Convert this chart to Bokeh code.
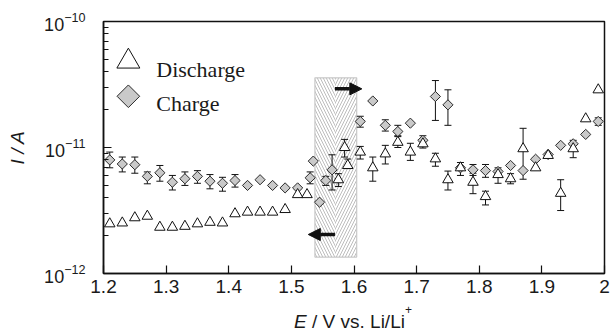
from bokeh.plotting import figure
from bokeh.layouts import column
from bokeh.models import (ColumnDataSource, Range1d, FixedTicker, CustomJSTickFormatter,
                          LogTickFormatter, Whisker, TeeHead, Arrow, NormalHead, Div)
from bokeh.core.properties import value
from bokeh.embed import file_html
from bokeh.resources import INLINE

# ---- Charge (diamonds) ----
charge_E = [1.21, 1.23, 1.25, 1.27, 1.29, 1.31, 1.33, 1.35, 1.37, 1.39, 1.41, 1.43, 1.45,
            1.47, 1.49, 1.51, 1.53, 1.535, 1.545, 1.555, 1.565, 1.61, 1.63, 1.65, 1.67,
            1.69, 1.71, 1.73, 1.75, 1.77, 1.79, 1.81, 1.83, 1.85, 1.87, 1.89, 1.91, 1.93,
            1.95, 1.97, 1.99]
charge_I = [7.97e-12, 7.4e-12, 7.3e-12, 5.9e-12, 6.3e-12, 5.3e-12, 5.65e-12, 5.9e-12,
            5.4e-12, 5.2e-12, 5.47e-12, 5.0e-12, 5.55e-12, 5.0e-12, 4.78e-12, 4.78e-12,
            5.75e-12, 7.8e-12, 3.68e-12, 5.47e-12, 6.65e-12, 1.61e-11, 2.34e-11, 1.5e-11,
            1.34e-11, 1.56e-11, 1.14e-11, 2.54e-11, 2.18e-11, 6.9e-12, 6.65e-12, 6.56e-12,
            6.45e-12, 7.2e-12, 6.56e-12, 8.07e-12, 8.8e-12, 1.04e-11, 1.07e-11, 1.27e-11,
            1.61e-11]
charge_err_E = [1.21, 1.23, 1.25, 1.27, 1.29, 1.31, 1.33, 1.35, 1.37, 1.39, 1.41, 1.53,
                1.555, 1.565, 1.61, 1.65, 1.67, 1.73, 1.75, 1.79, 1.81, 1.87, 1.99]
charge_err_lo = [6.9e-12, 6.4e-12, 6.25e-12, 5.15e-12, 5.4e-12, 4.6e-12, 5.0e-12, 5.2e-12,
                 4.7e-12, 4.5e-12, 4.85e-12, 5.15e-12, 5.0e-12, 4.6e-12, 1.45e-11, 1.35e-11,
                 1.22e-11, 1.64e-11, 1.5e-11, 6.0e-12, 5.8e-12, 5.6e-12, 1.5e-11]
charge_err_hi = [9.2e-12, 8.4e-12, 8.4e-12, 6.4e-12, 7.2e-12, 6.0e-12, 6.4e-12, 6.55e-12,
                 6.1e-12, 5.8e-12, 6.1e-12, 6.4e-12, 5.9e-12, 8.75e-12, 1.77e-11, 1.66e-11,
                 1.5e-11, 3.4e-11, 2.87e-11, 7.33e-12, 7.33e-12, 6.6e-12, 1.72e-11]

# ---- Discharge (triangles) ----
discharge_E = [1.21, 1.23, 1.25, 1.27, 1.29, 1.31, 1.33, 1.35, 1.37, 1.39, 1.41, 1.43,
               1.45, 1.47, 1.49, 1.51, 1.525, 1.575, 1.585, 1.59, 1.61, 1.63, 1.65, 1.67,
               1.69, 1.71, 1.73, 1.75, 1.77, 1.79, 1.81, 1.83, 1.85, 1.87, 1.89, 1.91,
               1.93, 1.95, 1.97, 1.99]
discharge_I = [2.48e-12, 2.52e-12, 2.77e-12, 2.85e-12, 2.33e-12, 2.33e-12, 2.37e-12,
               2.48e-12, 2.55e-12, 2.52e-12, 2.98e-12, 3.07e-12, 3.07e-12, 3.07e-12,
               3.22e-12, 4.23e-12, 4.23e-12, 5.55e-12, 1.0e-11, 7.2e-12, 9.2e-12, 6.9e-12,
               8.9e-12, 1.1e-11, 9.2e-12, 1.07e-11, 8.13e-12, 5.55e-12, 6.9e-12, 5.3e-12,
               4.08e-12, 6.1e-12, 5.65e-12, 9.78e-12, 6.9e-12, 8.65e-12, 4.33e-12,
               9.78e-12, 1.69e-11, 2.87e-11]
discharge_err_E = [1.575, 1.585, 1.59, 1.61, 1.63, 1.65, 1.67, 1.69, 1.71, 1.73, 1.75,
                   1.77, 1.79, 1.81, 1.83, 1.85, 1.87, 1.93, 1.95]
discharge_err_lo = [4.9e-12, 8.4e-12, 6.8e-12, 8.1e-12, 5.4e-12, 7.4e-12, 1.0e-11, 7.9e-12,
                    9.9e-12, 7.1e-12, 4.6e-12, 6.0e-12, 4.3e-12, 3.5e-12, 5.2e-12, 5.15e-12,
                    6.6e-12, 3.16e-12, 8.3e-12]
discharge_err_hi = [6.2e-12, 1.16e-11, 8.1e-12, 1.02e-11, 8.4e-12, 1.04e-11, 1.24e-11,
                    1.08e-11, 1.24e-11, 9.0e-12, 6.5e-12, 7.6e-12, 6.25e-12, 4.5e-12,
                    6.9e-12, 6.2e-12, 1.42e-11, 5.55e-12, 1.14e-11]

x_ticks = [1.2, 1.3, 1.4, 1.5, 1.6, 1.7, 1.8, 1.9, 2.0]
y_major = [1e-12, 1e-11, 1e-10]
y_minor = [m * d for d in (1e-12, 1e-11) for m in range(2, 10)]

# shaded potential window and the sweep arrows
window_left, window_mid, window_right = 1.5376, 1.5696, 1.6043
window_bottom, window_top = 1.35e-12, 3.57e-11

AXIS_FONT = "Liberation Sans"
FS = "19px"

p = figure(width=610, height=311, x_range=Range1d(1.2, 2.0), y_range=Range1d(1e-12, 1e-10),
           y_axis_type="log", output_backend="svg", toolbar_location=None,
           min_border_left=103, min_border_right=6, min_border_top=21, min_border_bottom=38)
p.grid.visible = False
p.outline_line_color = "#111111"
p.outline_line_width = 1.5
p.background_fill_color = "white"
p.border_fill_color = "white"

# hatched window (herringbone: two halves)
p.quad(left=[window_left], right=[window_mid], bottom=[window_bottom], top=[window_top],
       fill_color="white", line_color=None, hatch_pattern="\\", hatch_color="#bdbdbd",
       hatch_scale=6, hatch_weight=1.0, level="underlay")
p.quad(left=[window_mid], right=[window_right], bottom=[window_bottom], top=[window_top],
       fill_color="white", line_color=None, hatch_pattern="/", hatch_color="#bdbdbd",
       hatch_scale=6, hatch_weight=1.0, level="underlay")
p.quad(left=[window_left], right=[window_right], bottom=[window_bottom], top=[window_top],
       fill_color=None, line_color="#c8c8c8", line_width=1.2, level="underlay")

# error bars
for ex, lo, hi in [(charge_err_E, charge_err_lo, charge_err_hi),
                   (discharge_err_E, discharge_err_lo, discharge_err_hi)]:
    src = ColumnDataSource(dict(x=ex, lo=lo, hi=hi))
    w = Whisker(source=src, base="x", lower="lo", upper="hi", dimension="height",
                line_color="#111111", line_width=1,
                upper_head=TeeHead(size=7, line_color="#111111", line_width=1),
                lower_head=TeeHead(size=7, line_color="#111111", line_width=1))
    p.add_layout(w)

# data
p.scatter(charge_E, charge_I, marker="square", angle=0.7853981634, size=7.2,
          fill_color="#c9c9c9", line_color="#2a2a2a", line_width=1)
p.scatter(discharge_E, discharge_I, marker="triangle", size=10.5,
          fill_color="white", line_color="#111111", line_width=1)

# sweep-direction arrows
p.add_layout(Arrow(x_start=window_mid, y_start=2.92e-11, x_end=1.6125, y_end=2.92e-11,
                   line_width=3.5, line_color="#111111",
                   end=NormalHead(size=12, fill_color="#111111", line_color="#111111")))
p.add_layout(Arrow(x_start=window_mid, y_start=2.04e-12, x_end=1.527, y_end=2.04e-12,
                   line_width=3.5, line_color="#111111",
                   end=NormalHead(size=12, fill_color="#111111", line_color="#111111")))

# legend
p.scatter([1.2397], [4.82e-11], marker="triangle", size=23, fill_color="white",
          line_color="#111111", line_width=1)
p.scatter([1.2397], [2.55e-11], marker="square", angle=0.7853981634, size=16,
          fill_color="#c9c9c9", line_color="#2a2a2a", line_width=1)
p.text([1.2843], [4.14e-11], text=["Discharge"], text_font=value("Liberation Serif"),
       text_font_size="22px", text_baseline="alphabetic", text_color="#1a1a1a")
p.text([1.2843], [2.22e-11], text=["Charge"], text_font=value("Liberation Serif"),
       text_font_size="22px", text_baseline="alphabetic", text_color="#1a1a1a")

# axes
for ax in (p.xaxis[0], p.yaxis[0]):
    ax.axis_line_color = "#111111"
    ax.axis_line_width = 1.5
    ax.major_tick_line_color = "#111111"
    ax.major_tick_line_width = 1.2
    ax.major_tick_in = 8
    ax.major_tick_out = 0
    ax.major_label_text_font = AXIS_FONT
    ax.major_label_text_font_size = FS
    ax.major_label_text_color = "#1a1a1a"

p.xaxis.ticker = FixedTicker(ticks=x_ticks)
p.xaxis.formatter = CustomJSTickFormatter(code="return tick.toFixed(1).replace(/\\.0$/, '')")
p.xaxis.minor_tick_line_color = None
p.xaxis.major_label_standoff = 6

p.yaxis.ticker = FixedTicker(ticks=y_major, minor_ticks=y_minor)
p.yaxis.formatter = LogTickFormatter()
p.yaxis.major_label_text_font_size = "18px"
p.yaxis.minor_tick_in = 5
p.yaxis.minor_tick_out = 0
p.yaxis.minor_tick_line_color = "#111111"
p.yaxis.minor_tick_line_width = 1.2
p.yaxis.major_label_standoff = 18
p.yaxis.axis_label = "I / A"
p.yaxis.axis_label_text_font = AXIS_FONT
p.yaxis.axis_label_text_font_size = FS
p.yaxis.axis_label_text_font_style = "italic"
p.yaxis.axis_label_text_color = "#1a1a1a"
p.yaxis.axis_label_standoff = 13

# x axis title with italic symbol and superscript, centred under the frame
xlabel = Div(
    text='<i>E</i> / V vs. Li/Li<span style="font-size:12px;vertical-align:top;'
         'line-height:0;position:relative;top:-1px">+</span>',
    width=500, height=20, margin=(0, 0, 0, 103),
    styles={"text-align": "center", "font-family": "Liberation Sans", "font-size": "19px",
            "color": "#1a1a1a", "line-height": "21px", "white-space": "nowrap"})

layout = column(p, xlabel, spacing=0)

open("out.html", "w").write(file_html(layout, INLINE))
